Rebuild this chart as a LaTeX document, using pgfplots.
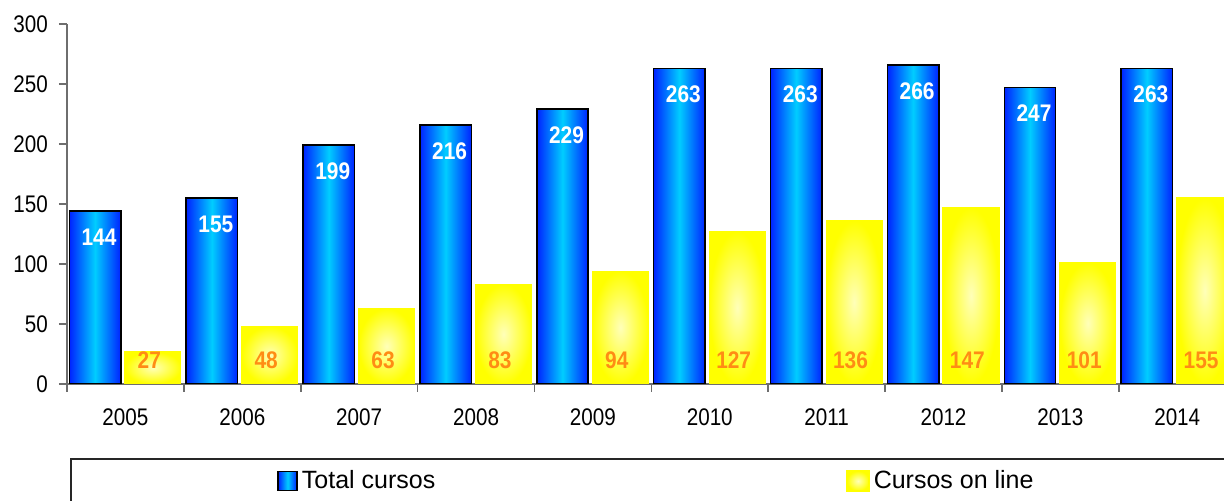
\documentclass[border=0pt]{standalone}
\usepackage{fontspec}
\setmainfont{Liberation Sans}
\usepackage{pgfplots}
\usepackage{pgfplotstable}
\pgfplotsset{compat=1.18}

\definecolor{bedge}{RGB}{0,35,255}
\definecolor{bmid}{RGB}{0,205,255}
\definecolor{yedge}{RGB}{255,255,0}
\definecolor{ymid}{RGB}{255,255,185}
\definecolor{lblorange}{RGB}{255,140,20}
\definecolor{axgray}{RGB}{110,110,110}

\pgfplotsset{
    sqlegend/.style={legend image code/.code={\draw[##1] (0pt,-4.75pt) rectangle (9.5pt,4.75pt);}},
    sqlegendy/.style={legend image code/.code={\draw[##1] (0pt,-5pt) rectangle (11pt,5pt);}},
    bluebar/.style={ybar, forget plot, bar width=0.44, bar shift=-0.26, draw=black, line width=0.75pt,
        left color=bedge, right color=bedge, middle color=bmid,
        nodes near coords,
        nodes near coords style={text=white, font=\bfseries\fontsize{12}{14}\selectfont, xscale=0.87,
            anchor=center, shift={(axis direction cs:-0.26,0)}, yshift=-13pt}},
    yellowbar/.style={ybar, forget plot, bar width=0.48, bar shift=0.235, draw=yedge, line width=0.5pt,
        shading=radial, inner color=ymid, outer color=yedge,
        visualization depends on=y \as \rawy,
        nodes near coords,
        nodes near coords style={text=lblorange, font=\bfseries\fontsize{12}{14}\selectfont, xscale=0.87,
            anchor=center, shift={(axis direction cs:0.235,{20-\rawy})}}},
}

\pgfplotstableread{
idx total online
0 144 27
1 155 48
2 199 63
3 216 83
4 229 94
5 263 127
6 263 136
7 266 147
8 247 101
9 263 155
}\cursos

\begin{document}
\begin{tikzpicture}
\begin{axis}[
    name=ax, at={(0,0)}, anchor=south west,
    scale only axis, width=578.5pt, height=180pt,
    xmin=-0.5, xmax=9.4, ymin=0, ymax=300,
    enlargelimits=false,
    axis x line*=bottom, axis y line*=left,
    axis line style={axgray, line width=0.8pt},
    tick style={axgray, line width=0.8pt},
    tick align=outside, major tick length=4pt,
    ytick={0,50,...,300},
    xtick={-0.5,0.5,...,8.5}, xticklabels={},
    extra x ticks={0,1,2,3,4,5,6,7,8,9},
    extra x tick labels={2005,2006,2007,2008,2009,2010,2011,2012,2013,2014},
    extra x tick style={major tick length=0pt},
    tick label style={font=\fontsize{12}{14}\selectfont, text=black, xscale=0.86},
    xticklabel style={yshift=-9pt},
    yticklabel style={xshift=-3pt},
    /pgf/number format/assume math mode=true,
    legend columns=2,
    legend style={draw=none, fill=none, at={(axis description cs:0,0)}, anchor=west,
        xshift=102pt, yshift=-48.5pt, font=\fontsize{12.5}{14}\selectfont,
        /tikz/every even column/.append style={column sep=203.5pt}},
]
\pgfplotsinvokeforeach{0,...,9}{
    \addplot[bluebar, restrict x to domain=#1:#1] table[x=idx, y=total] {\cursos};
    \addplot[yellowbar, restrict x to domain=#1:#1] table[x=idx, y=online] {\cursos};
}
\addlegendimage{sqlegend, draw=black, line width=0.75pt, left color=bedge, right color=bedge, middle color=bmid}
\addlegendentry{Total cursos}
\addlegendimage{sqlegendy, draw=yedge, line width=0.75pt, shading=radial, inner color=ymid, outer color=yedge}
\addlegendentry{Cursos on line}
\end{axis}
\draw[black!85, line width=0.6pt] (2pt,-120pt) -- (2pt,-37.5pt) -- (700pt,-37.5pt);
\pgfresetboundingbox
\useasboundingbox (-33.5pt,-58.5pt) rectangle (578.5pt,192pt);
\end{tikzpicture}
\end{document}
